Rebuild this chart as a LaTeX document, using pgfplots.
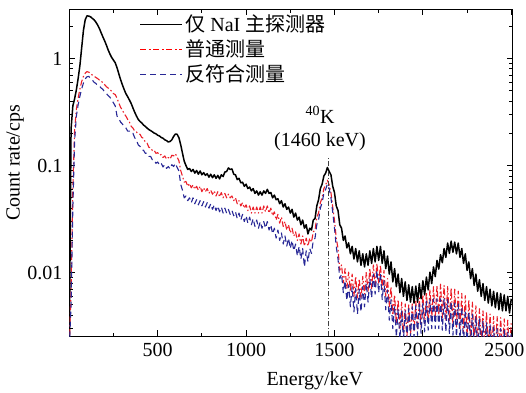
\documentclass[border=0pt]{standalone}
\usepackage{fontspec}
\setmainfont{Liberation Serif}
\newfontfamily\cjk{Noto Sans CJK SC}
\usepackage{pgfplots}
\usepackage{pgfplotstable}
\pgfplotsset{compat=1.18}
\definecolor{cred}{RGB}{235,30,40}
\definecolor{cblue}{RGB}{40,40,150}
\pgfplotstableread{
E nai normal anti
0 0.002 0.002 0.002
10 0.22 0.007 0.005
20 0.36 0.06 0.04
30 0.42 0.215 0.17
40 0.51 0.335 0.29
50 0.65 0.425 0.37
60 0.86 0.52 0.445
70 1.26 0.61 0.52
80 1.83 0.68 0.59
90 2.30 0.73 0.645
100 2.50 0.755 0.675
110 2.49 0.745 0.68
120 2.45 0.73 0.655
130 2.37 0.70 0.63
140 2.30 0.685 0.60
150 2.19 0.665 0.585
160 2.06 0.65 0.56
170 1.91 0.63 0.555
180 1.74 0.62 0.53
190 1.59 0.59 0.515
200 1.46 0.57 0.485
210 1.33 0.545 0.47
220 1.20 0.53 0.45
230 1.10 0.51 0.435
240 1.02 0.495 0.405
250 0.965 0.47 0.385
260 0.91 0.46 0.36
270 0.82 0.425 0.29
280 0.72 0.385 0.275
290 0.635 0.35 0.255
300 0.57 0.33 0.245
310 0.515 0.305 0.23
320 0.47 0.29 0.225
330 0.44 0.27 0.21
340 0.41 0.255 0.21
350 0.38 0.233 0.20
360 0.345 0.224 0.20
370 0.315 0.21 0.182
380 0.29 0.206 0.173
390 0.27 0.197 0.156
400 0.258 0.196 0.151
410 0.250 0.183 0.140
420 0.239 0.180 0.139
430 0.232 0.165 0.130
440 0.224 0.162 0.131
450 0.217 0.148 0.122
460 0.212 0.147 0.122
470 0.207 0.138 0.113
480 0.201 0.139 0.113
490 0.198 0.130 0.105
500 0.192 0.132 0.108
510 0.189 0.125 0.101
520 0.183 0.127 0.105
530 0.180 0.119 0.097
540 0.174 0.123 0.102
550 0.171 0.115 0.094
560 0.166 0.119 0.098
570 0.168 0.115 0.093
580 0.174 0.125 0.102
590 0.187 0.123 0.098
600 0.197 0.129 0.105
610 0.196 0.120 0.096
620 0.182 0.111 0.089
630 0.157 0.090 0.067
640 0.131 0.080 0.059
650 0.110 0.070 0.050
660 0.100 0.071 0.052
670 0.092 0.064 0.047
680 0.094 0.068 0.050
690 0.088 0.062 0.045
700 0.092 0.066 0.050
710 0.085 0.060 0.044
720 0.090 0.064 0.048
730 0.083 0.059 0.043
740 0.089 0.064 0.047
750 0.082 0.057 0.042
760 0.086 0.062 0.046
770 0.081 0.057 0.041
780 0.084 0.061 0.045
790 0.078 0.055 0.040
800 0.083 0.059 0.044
810 0.077 0.054 0.039
820 0.082 0.058 0.043
830 0.076 0.052 0.038
840 0.081 0.057 0.042
850 0.075 0.051 0.037
860 0.082 0.056 0.041
870 0.079 0.050 0.036
880 0.087 0.055 0.040
890 0.088 0.050 0.036
900 0.095 0.054 0.039
910 0.092 0.050 0.035
920 0.093 0.052 0.038
930 0.083 0.047 0.034
940 0.082 0.050 0.037
950 0.074 0.044 0.032
960 0.076 0.047 0.036
970 0.069 0.042 0.031
980 0.070 0.045 0.035
990 0.064 0.040 0.030
1000 0.067 0.043 0.034
1010 0.061 0.038 0.029
1020 0.063 0.042 0.033
1030 0.058 0.036 0.028
1040 0.061 0.041 0.032
1050 0.055 0.036 0.027
1060 0.058 0.041 0.031
1070 0.053 0.036 0.026
1080 0.057 0.041 0.030
1090 0.053 0.036 0.026
1100 0.058 0.042 0.030
1110 0.055 0.037 0.026
1120 0.060 0.042 0.030
1130 0.055 0.036 0.025
1140 0.056 0.040 0.028
1150 0.050 0.034 0.023
1160 0.053 0.037 0.026
1170 0.048 0.031 0.021
1180 0.049 0.035 0.025
1190 0.044 0.029 0.020
1200 0.047 0.033 0.0235
1210 0.041 0.027 0.0185
1220 0.044 0.030 0.022
1230 0.039 0.025 0.0177
1240 0.041 0.028 0.021
1250 0.036 0.0235 0.0168
1260 0.039 0.026 0.020
1270 0.033 0.022 0.016
1280 0.036 0.024 0.0185
1290 0.031 0.020 0.0143
1300 0.033 0.023 0.0176
1310 0.028 0.0185 0.0134
1320 0.031 0.022 0.0168
1330 0.026 0.0177 0.0113
1340 0.028 0.021 0.016
1350 0.023 0.0177 0.0126
1360 0.026 0.021 0.0168
1370 0.025 0.0193 0.0151
1380 0.031 0.024 0.020
1390 0.032 0.025 0.021
1400 0.042 0.033 0.028
1410 0.048 0.036 0.031
1420 0.061 0.045 0.040
1430 0.067 0.050 0.045
1440 0.080 0.061 0.055
1450 0.085 0.066 0.060
1460 0.096 0.073 0.067
1470 0.088 0.066 0.061
1480 0.082 0.056 0.050
1490 0.064 0.041 0.037
1500 0.056 0.031 0.026
1510 0.042 0.021 0.0176
1520 0.038 0.0168 0.0134
1530 0.028 0.0105 0.0088
1540 0.026 0.0118 0.0097
1550 0.020 0.0080 0.0065
1560 0.022 0.0109 0.0084
1570 0.017 0.0071 0.0055
1580 0.019 0.0101 0.0077
1590 0.015 0.0067 0.0048
1600 0.0176 0.0097 0.0074
1610 0.0134 0.0060 0.0043
1620 0.0168 0.0092 0.0071
1630 0.0126 0.0058 0.0041
1640 0.016 0.0088 0.0070
1650 0.0117 0.0057 0.0043
1660 0.015 0.0092 0.0074
1670 0.0113 0.0063 0.0048
1680 0.015 0.0101 0.0080
1690 0.0117 0.0067 0.0053
1700 0.016 0.0109 0.0088
1710 0.0122 0.0071 0.0058
1720 0.0168 0.0118 0.0097
1730 0.0126 0.0075 0.0063
1740 0.0176 0.0122 0.0105
1750 0.013 0.0080 0.0065
1760 0.0176 0.0118 0.0099
1770 0.0122 0.0071 0.0056
1780 0.016 0.0105 0.0084
1790 0.0109 0.0060 0.0045
1800 0.0143 0.0088 0.0069
1810 0.0097 0.0048 0.0036
1820 0.0126 0.0074 0.0056
1830 0.0082 0.0040 0.0030
1840 0.0109 0.0062 0.0049
1850 0.0074 0.0033 0.0025
1860 0.0097 0.0056 0.0046
1870 0.0065 0.0030 0.0024
1880 0.0088 0.0053 0.0044
1890 0.0060 0.0027 0.0023
1900 0.0082 0.0051 0.0044
1910 0.0055 0.0025 0.0024
1920 0.0077 0.0050 0.0046
1930 0.0053 0.0026 0.0025
1940 0.0074 0.0051 0.0048
1950 0.0052 0.0028 0.0025
1960 0.0075 0.0054 0.0049
1970 0.0053 0.0030 0.0026
1980 0.0079 0.0058 0.0051
1990 0.0057 0.0031 0.0027
2000 0.0084 0.0062 0.0052
2010 0.0062 0.0033 0.0028
2020 0.0091 0.0066 0.0054
2030 0.0069 0.0035 0.0029
2040 0.0101 0.0070 0.0056
2050 0.0079 0.0037 0.0030
2060 0.0113 0.0074 0.0057
2070 0.0092 0.0038 0.0030
2080 0.0130 0.0076 0.0057
2090 0.0108 0.0040 0.0030
2100 0.0147 0.0078 0.0057
2110 0.0124 0.0038 0.0029
2120 0.0168 0.0076 0.0057
2130 0.0139 0.0036 0.0028
2140 0.0189 0.0074 0.0056
2150 0.0151 0.0035 0.0027
2160 0.0197 0.0072 0.0054
2170 0.0155 0.0033 0.0026
2180 0.0193 0.0070 0.0052
2190 0.0150 0.0031 0.0025
2200 0.0189 0.0067 0.0051
2210 0.0139 0.0030 0.0024
2220 0.0168 0.0064 0.0048
2230 0.0122 0.0027 0.0022
2240 0.0150 0.0061 0.0045
2250 0.0105 0.0025 0.0021
2260 0.0126 0.0056 0.0043
2270 0.0088 0.0023 0.0021
2280 0.0109 0.0053 0.0041
2290 0.0076 0.0022 0.0020
2300 0.0097 0.0049 0.0039
2310 0.0067 0.0021 0.0019
2320 0.0086 0.0046 0.0037
2330 0.0060 0.0021 0.0018
2340 0.0079 0.0044 0.0035
2350 0.0055 0.0020 0.0017
2360 0.0074 0.0043 0.0034
2370 0.0052 0.0019 0.0016
2380 0.0070 0.0041 0.0033
2390 0.0049 0.0019 0.0016
2400 0.0067 0.0039 0.0031
2410 0.0047 0.0018 0.0016
2420 0.0065 0.0039 0.0030
2430 0.0045 0.0018 0.0016
2440 0.0064 0.0038 0.0030
2450 0.0044 0.0018 0.0016
2460 0.0062 0.0037 0.0029
2470 0.0044 0.0018 0.0015
2480 0.0060 0.0036 0.0028
2490 0.0042 0.0017 0.0015
2500 0.0057 0.0035 0.0028
}\spectra

\begin{document}
\fontsize{20}{24}\selectfont
\begin{tikzpicture}[font=\fontsize{20}{24}\selectfont]
\useasboundingbox (-69.3pt,-56pt) rectangle (456.7pt,336pt);
\begin{axis}[
  scale only axis, width=443.2pt, height=326.7pt,
  xmin=0, xmax=2507, ymode=log, ymin=0.00256, ymax=2.88,
  xtick={500,1000,1500,2000},
  xticklabels={500,1000,1500,2000},
  extra x ticks={2500}, extra x tick labels={2500},
  extra x tick style={xticklabel style={xshift=-7pt}},
  minor xtick={250,750,1250,1750,2250},
  ytick={0.01,0.1,1}, yticklabels={0.01,0.1,1},
  minor ytick={0.003,0.004,0.005,0.006,0.007,0.008,0.009,0.02,0.03,0.04,0.05,0.06,0.07,0.08,0.09,0.2,0.3,0.4,0.5,0.6,0.7,0.8,0.9,2},
  tick align=inside,
  major tick length=6pt, minor tick length=3.5pt,
  axis line style={line width=0.9pt},
  every tick/.style={line width=0.8pt, black},
  xlabel={Energy/keV}, ylabel={Count rate/cps},
  xlabel style={at={(axis description cs:0.554,0)}, anchor=north, yshift=-35pt, inner sep=0pt},
  ylabel style={at={(axis description cs:-0.122,0.53)}, anchor=center, inner sep=0pt},
  legend style={draw=none, fill=none, at={(axis description cs:0.158,0.99)}, anchor=north west, inner sep=0pt, row sep=1pt, nodes={inner sep=2pt}},
  legend cell align=left,
  legend image code/.code={\draw[#1] (0pt,0pt) -- (42pt,0pt);},
]
\addlegendimage{draw=black, line width=1.2pt}
\addlegendentry{{\cjk 仅} NaI {\cjk 主探测器}}
\addlegendimage{draw=red, color=red, line width=1.8pt, dash pattern=on 6pt off 2.5pt on 2pt off 2.5pt}
\addlegendentry{\cjk 普通测量}
\addlegendimage{draw=cblue, line width=1.3pt, dash pattern=on 6pt off 4pt}
\addlegendentry{\cjk 反符合测量}
\addplot[black, line width=1.5pt, line join=round, forget plot] table[x=E,y=nai]{\spectra};
\addplot[cred, line width=1.1pt, line join=round, dash pattern=on 6pt off 2.5pt on 1.5pt off 2.5pt, forget plot] table[x=E,y=normal]{\spectra};
\addplot[cblue, line width=1.1pt, line join=round, dash pattern=on 6pt off 4pt, forget plot] table[x=E,y=anti]{\spectra};
\addplot[black!75, line width=0.8pt, dash pattern=on 5pt off 2pt on 1pt off 2pt, forget plot] coordinates {(1465,0.00256) (1465,0.12)};
\node at (axis cs:1418,0.296) {\textsuperscript{40}K};
\node at (axis cs:1418,0.166) {(1460 keV)};
\end{axis}
\end{tikzpicture}
\end{document}
